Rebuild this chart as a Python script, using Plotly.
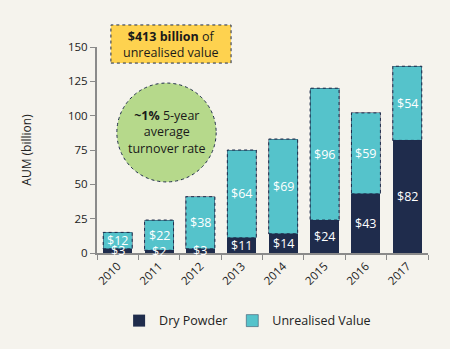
import plotly.graph_objects as go

years = ["2010", "2011", "2012", "2013", "2014", "2015", "2016", "2017"]
dry_powder = [3, 2, 3, 11, 14, 24, 43, 82]
unrealised = [12, 22, 38, 64, 69, 96, 59, 54]

NAVY = "#1f2c4c"
TEAL = "#55c3cb"
GREEN = "#b6d98b"
YELLOW = "#fed24f"
BG = "#f5f3ed"
FONT = "Open Sans"
BAR_W = 0.7

fig = go.Figure()
fig.add_trace(go.Bar(
    x=years, y=dry_powder, name="Dry Powder",
    marker=dict(color=NAVY, line=dict(width=0)),
    width=BAR_W,
))
fig.add_trace(go.Bar(
    x=years, y=unrealised, name="Unrealised Value",
    marker=dict(color=TEAL, line=dict(width=1, color="rgba(31,44,76,0.45)")),
    width=BAR_W,
))

# dotted outline around each unrealised-value segment, plus centred value labels
shapes = []
annotations = []
for i, (d, u) in enumerate(zip(dry_powder, unrealised)):
    shapes.append(dict(
        type="rect", xref="x", yref="y",
        x0=i - BAR_W / 2, x1=i + BAR_W / 2, y0=d, y1=d + u,
        line=dict(color=NAVY, width=1, dash="dot"), layer="above",
    ))
    annotations.append(dict(
        x=i, y=d / 2, xref="x", yref="y", text=f"${d}", showarrow=False,
        xanchor="center", yanchor="middle",
        font=dict(color="white", size=12.5, family=FONT),
    ))
    annotations.append(dict(
        x=i, y=d + u / 2, xref="x", yref="y", text=f"${u}", showarrow=False,
        xanchor="center", yanchor="middle",
        font=dict(color="white", size=12.5, family=FONT),
    ))

# callouts: yellow box and green circle
shapes.append(dict(
    type="rect", xref="paper", yref="paper",
    x0=0.042, x1=0.405, y0=0.922, y1=1.107,
    fillcolor=YELLOW, line=dict(color=NAVY, width=1, dash="dot"),
))
shapes.append(dict(
    type="circle", xref="paper", yref="paper",
    x0=0.060, x1=0.360, y0=0.345, y1=0.825,
    fillcolor=GREEN, line=dict(color=NAVY, width=1, dash="dot"),
))

annotations += [
    dict(xref="paper", yref="paper", x=0.2235, y=1.0145,
         xanchor="center", yanchor="middle",
         text="<b>$413 billion</b> of<br>unrealised value",
         showarrow=False, align="center",
         font=dict(size=12.5, color="#1a1a1a", family=FONT)),
    dict(xref="paper", yref="paper", x=0.21, y=0.585,
         xanchor="center", yanchor="middle",
         text="<b>~1%</b> 5-year<br>average<br>turnover rate",
         showarrow=False, align="center",
         font=dict(size=12.5, color="#1a1a1a", family=FONT)),
]

fig.update_layout(
    barmode="stack",
    width=450, height=349,
    margin=dict(l=97, r=22, t=47, b=96),
    paper_bgcolor=BG, plot_bgcolor=BG,
    font=dict(family=FONT, color="#222", size=12),
    shapes=shapes, annotations=annotations,
    showlegend=True,
    legend=dict(orientation="h", x=0.455, xanchor="center", y=-0.33, yanchor="middle",
                font=dict(size=12.5, family=FONT, color="#222"),
                itemwidth=30, traceorder="normal", bgcolor="rgba(0,0,0,0)"),
)
fig.update_xaxes(
    type="category", tickangle=-45, showgrid=False,
    range=[-0.5, len(years) - 0.5],
    showline=True, linecolor="#8a8a8a", linewidth=2,
    ticks="outside", tickson="boundaries", ticklen=5, tickcolor="#8a8a8a",
    tickfont=dict(size=11.5, family=FONT, color="#222"),
)
fig.update_yaxes(
    range=[0, 150], tickvals=[0, 25, 50, 75, 100, 125, 150], showgrid=False,
    zeroline=False, showline=True, linecolor="#8a8a8a", linewidth=2,
    ticks="outside", ticklen=5, tickcolor="#8a8a8a",
    tickfont=dict(size=11.5, family=FONT, color="#222"),
    title=dict(text="AUM (billion)", font=dict(size=12, family=FONT, color="#222"), standoff=34),
)

fig.write_html("out.html")
